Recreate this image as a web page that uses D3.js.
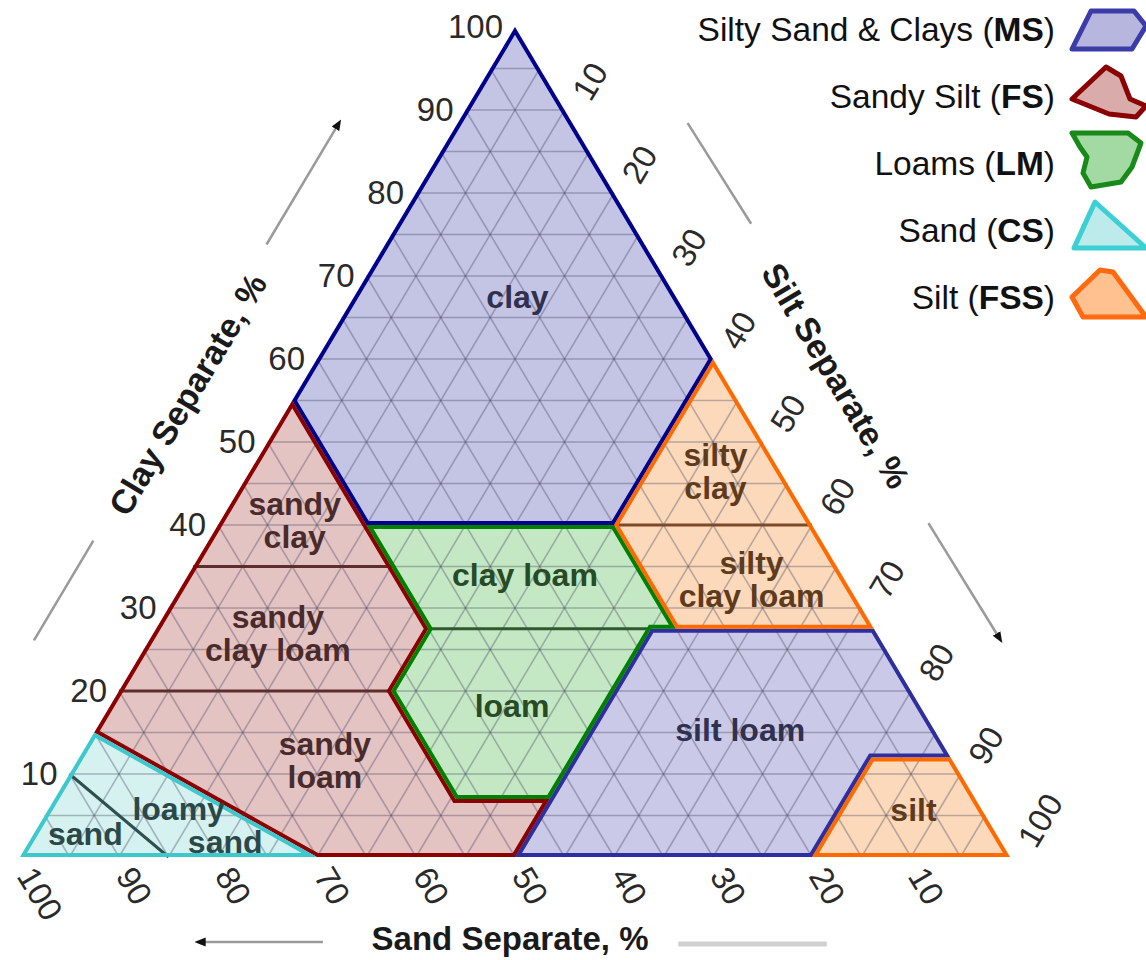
<!DOCTYPE html>
<html lang="en">
<head>
<meta charset="UTF-8">
<title>Soil texture triangle</title>
<script src="https://cdn.jsdelivr.net/npm/d3@7"></script>
<style>
  body { margin: 0; background: #fff; }
  svg { display: block; font-family: "Liberation Sans", Arial, sans-serif; }
</style>
</head>
<body>
<script>
// tick values on all three sides, grid every 5 %
const ticks = [10, 20, 30, 40, 50, 60, 70, 80, 90, 100];
const gridSteps = d3.range(5, 100, 5);

// texture class outlines, points are [sand %, clay %] (silt = the rest)
const clayPoly = [[0, 100], [45, 55], [45, 40], [20, 40], [0, 60]];
const siltLoamPoly = [[22.5, 27.5], [0, 27.5], [0, 12], [8, 12], [20, 0], [50, 0], [43, 7]];
const sandySiltPoly = [[45, 55], [85, 15], [70, 0], [50, 0], [43, 7], [52.5, 7], [52.5, 20], [45, 27.5], [45, 40]];
const loamsPoly = [[45, 40], [20, 40], [20, 27.5], [22.5, 27.5], [43, 7], [52.5, 7], [52.5, 20], [45, 27.5]];
const sandPoly = [[85, 15], [100, 0], [70, 0]];
const siltyClayPoly = [[0, 60], [20, 40], [20, 27.5], [0, 27.5]];
const siltPoly = [[8, 12], [0, 12], [0, 0], [20, 0]];

// class borders inside a group
const dividers = [
  { group: "FS", from: [65, 35], to: [45, 35] },
  { group: "FS", from: [80, 20], to: [52.5, 20] },
  { group: "LM", from: [45, 27.5], to: [22.5, 27.5] },
  { group: "FSS", from: [20, 40], to: [0, 40] },
  { group: "CS", from: [90, 10], to: [85, 0] }
];

// class names and where they sit, [sand %, clay %]
const labelText = [["clay"], ["silty", "clay"], ["sandy", "clay"], ["clay loam"], ["silty", "clay loam"],
  ["sandy", "clay loam"], ["loam"], ["silt loam"], ["sandy", "loam"], ["silt"], ["loamy"], ["sand"], ["sand"]];
const labelAt = [[16, 67.5], [6.5, 46.5], [52, 40.5], [32, 34], [9.4, 33.4], [60.5, 26.9], [41.2, 18.2],
  [19.6, 15.3], [63.4, 11.6], [6.9, 5.7], [81.1, 5.75], [78.4, 1.75], [92, 2.8]];
const labelGroup = ["MS", "FSS", "FS", "LM", "FSS", "FS", "LM", "MS", "FS", "FSS", "CS", "CS", "CS"];

const legendNames = ["Silty Sand & Clays", "Sandy Silt", "Loams", "Sand", "Silt"];
const legendCodes = ["MS", "FS", "LM", "CS", "FSS"];

const groupFill = { MS: "#c4c4e5", FS: "#e4c3c3", LM: "#c3e8c3", CS: "#d6f2f0", FSS: "#fcd9bb" };
const groupStroke = { MS: "#00008b", FS: "#8b0000", LM: "#008000", CS: "#3cc8cc", FSS: "#ff6a00" };
const groupInk = { MS: "#30304f", FS: "#4a2b2b", LM: "#274a27", CS: "#2a4848", FSS: "#5e3b1c" };
const dividerInk = { FS: "#5e2e2e", LM: "#2e5a2e", CS: "#2e5050", FSS: "#7a4a2a" };

const width = 1146, height = 960;
const svg = d3.select("body").append("svg")
  .attr("width", width)
  .attr("height", height);

const xScale = d3.scaleLinear().domain([0, 100]).range([20, 1010]);
const yScale = d3.scaleLinear().domain([0, 100]).range([857, 27]);

// screen position of a sand/clay pair
function pos(sand, clay) {
  const silt = 100 - sand - clay;
  return [xScale(silt + clay / 2), yScale(clay)];
}

const pSand = pos(100, 0), pClay = pos(0, 100);
const ang = Math.atan2(pSand[1] - pClay[1], pClay[0] - pSand[0]) * 180 / Math.PI;
const rad = ang * Math.PI / 180;
const nLeft = [-Math.sin(rad), -Math.cos(rad)];   // outward from the clay side
const nRight = [Math.sin(rad), -Math.cos(rad)];   // outward from the silt side
function shift(p, n, d) { return [p[0] + n[0] * d, p[1] + n[1] * d]; }

const polys = [
  { pts: clayPoly, group: "MS" },
  { pts: siltLoamPoly, group: "MS", stroke: "#2e2e9e", fill: "#cacae8" },
  { pts: sandySiltPoly, group: "FS" },
  { pts: loamsPoly, group: "LM" },
  { pts: sandPoly, group: "CS" },
  { pts: siltyClayPoly, group: "FSS" },
  { pts: siltPoly, group: "FSS" }
];
const ptsStr = d => d.pts.map(p => pos(p[0], p[1])).join(" ");

const defs = svg.append("defs");
polys.forEach((d, i) => {
  defs.append("clipPath").attr("id", "clip" + i)
    .append("polygon").attr("points", ptsStr(d));
});
defs.append("marker")
  .attr("id", "head")
  .attr("viewBox", "0 0 10 10")
  .attr("refX", 5).attr("refY", 5)
  .attr("markerWidth", 11).attr("markerHeight", 11)
  .attr("markerUnits", "userSpaceOnUse")
  .attr("orient", "auto")
  .append("path").attr("d", "M0,1 L10,5 L0,9 z").attr("fill", "#111");

// fills
svg.append("g").selectAll("polygon")
  .data(polys)
  .enter().append("polygon")
  .attr("points", ptsStr)
  .attr("fill", d => d.fill || groupFill[d.group]);

// triangular grid
const gridLines = [];
gridSteps.forEach(v => {
  gridLines.push([pos(100 - v, v), pos(0, v)]);
  gridLines.push([pos(v, 0), pos(v, 100 - v)]);
  gridLines.push([pos(100 - v, 0), pos(0, 100 - v)]);
});
svg.append("g").selectAll("line")
  .data(gridLines)
  .enter().append("line")
  .attr("x1", d => d[0][0]).attr("y1", d => d[0][1])
  .attr("x2", d => d[1][0]).attr("y2", d => d[1][1])
  .attr("stroke", "rgba(70,70,95,0.36)")
  .attr("stroke-width", 1.6);

// dark lines between classes of one group
svg.append("g").selectAll("line")
  .data(dividers)
  .enter().append("line")
  .attr("x1", d => pos(...d.from)[0]).attr("y1", d => pos(...d.from)[1])
  .attr("x2", d => pos(...d.to)[0]).attr("y2", d => pos(...d.to)[1])
  .attr("stroke", d => dividerInk[d.group])
  .attr("stroke-width", 3);

// group outlines, stroke kept inside each shape
svg.append("g").selectAll("polygon")
  .data(polys)
  .enter().append("polygon")
  .attr("points", ptsStr)
  .attr("fill", "none")
  .attr("clip-path", (d, i) => "url(#clip" + i + ")")
  .attr("stroke", d => d.stroke || groupStroke[d.group])
  .attr("stroke-width", 8)
  .attr("stroke-linejoin", "miter");

// class names
const labels = svg.append("g")
  .attr("font-size", 32)
  .attr("font-weight", "bold")
  .attr("text-anchor", "middle");
labelText.forEach((lines, i) => {
  const p = pos(...labelAt[i]);
  const t = labels.append("text").attr("fill", groupInk[labelGroup[i]]);
  lines.forEach((s, j) => {
    t.append("tspan")
      .attr("x", p[0])
      .attr("y", p[1] + (j - (lines.length - 1) / 2) * 33)
      .attr("dominant-baseline", "central")
      .text(s);
  });
});

// tick labels
const tickG = svg.append("g").attr("font-size", 33).attr("fill", "#2a2a2a");
tickG.selectAll(".clay")
  .data(ticks)
  .enter().append("text")
  .attr("x", d => pos(100 - d, d)[0] - 12)
  .attr("y", d => pos(100 - d, d)[1] - 1)
  .attr("text-anchor", "end")
  .attr("dominant-baseline", "central")
  .text(d => d);
tickG.selectAll(".silt")
  .data(ticks)
  .enter().append("text")
  .attr("transform", d => {
    const p = pos(0, 100 - d);
    return "translate(" + (p[0] + 16) + "," + (p[1] - 13) + ") rotate(" + (-ang) + ")";
  })
  .attr("dominant-baseline", "central")
  .text(d => d);
tickG.selectAll(".sand")
  .data(ticks)
  .enter().append("text")
  .attr("transform", d => {
    const p = pos(d, 0);
    return "translate(" + (p[0] + 6) + "," + (p[1] + 13) + ") rotate(" + ang + ")";
  })
  .attr("dominant-baseline", "central")
  .text(d => d);

// axis titles
const titleG = svg.append("g")
  .attr("font-size", 34)
  .attr("font-weight", "bold")
  .attr("fill", "#1a1a1a")
  .attr("text-anchor", "middle")
  .attr("dominant-baseline", "central");
const clayT = shift(pos(50, 50), nLeft, 93);
titleG.append("text")
  .attr("transform", "translate(" + clayT + ") rotate(" + (-ang) + ")")
  .text("Clay Separate, %");
const siltT = shift(pos(0, 52), nRight, 97);
titleG.append("text")
  .attr("transform", "translate(" + siltT + ") rotate(" + ang + ")")
  .text("Silt Separate, %");
const sandT = pos(50.5, 0);
titleG.append("text")
  .attr("x", sandT[0]).attr("y", sandT[1] + 81)
  .attr("font-size", 33)
  .text("Sand Separate, %");

// little direction lines next to the titles
const arrows = [
  { a: shift(pos(80, 20), nLeft, 99), b: shift(pos(68, 32), nLeft, 99), head: false },
  { a: shift(pos(32.5, 67.5), nLeft, 102), b: shift(pos(18, 82), nLeft, 102), head: true },
  { a: shift(pos(0, 82.3), nRight, 99), b: shift(pos(0, 70), nRight, 102), head: false },
  { a: shift(pos(0, 34), nRight, 101), b: shift(pos(0, 20), nRight, 103), head: true },
  { a: [pos(69.4, 0)[0], 942], b: [pos(81.8, 0)[0], 942], head: true },
  { a: [pos(33.5, 0)[0], 944], b: [pos(18.5, 0)[0], 944], head: false, light: true }
];
svg.append("g").selectAll("line")
  .data(arrows)
  .enter().append("line")
  .attr("x1", d => d.a[0]).attr("y1", d => d.a[1])
  .attr("x2", d => d.b[0]).attr("y2", d => d.b[1])
  .attr("stroke", d => d.light ? "#d0d0d0" : "#9a9a9a")
  .attr("stroke-width", d => d.light ? 5 : 2.5)
  .attr("marker-end", d => d.head ? "url(#head)" : null);

// legend
const legendShapes = [
  [[4, 20], [23, -18], [66, -18], [78, -3], [64, 20]],
  [[4, 3], [38, -29], [53, -20], [62, 3], [78, 10], [68, 21], [41, 18]],
  [[4, -30], [60, -30], [73, -20], [64, 4], [53, 19], [23, 24], [15, 10], [19, -6], [12, -16]],
  [[6, 18], [27, -28], [78, 18]],
  [[4, 0], [32, -27], [45, -25], [78, 20], [15, 20]]
];
const legendFill = { MS: "#b6b6de", FS: "#d9abab", LM: "#a3d9a3", CS: "#bdeaea", FSS: "#ffc190" };
const legendStroke = { MS: "#3c3ca8", FS: "#8b0000", LM: "#198a19", CS: "#3cd0d4", FSS: "#ff6a10" };
const legendY = d3.scaleLinear().domain([0, 4]).range([29, 297]);

const legend = svg.append("g").selectAll("g")
  .data(legendCodes)
  .enter().append("g")
  .attr("transform", (d, i) => "translate(0," + legendY(i) + ")");
legend.append("text")
  .attr("x", 1055)
  .attr("text-anchor", "end")
  .attr("dominant-baseline", "central")
  .attr("font-size", 33.5)
  .attr("fill", "#111")
  .each(function (d, i) {
    const t = d3.select(this);
    t.append("tspan").text(legendNames[i] + " (");
    t.append("tspan").attr("font-weight", "bold").text(d);
    t.append("tspan").text(")");
  });
legend.append("polygon")
  .attr("points", (d, i) => legendShapes[i].map(p => [1068 + p[0], p[1]]).join(" "))
  .attr("fill", d => legendFill[d])
  .attr("stroke", d => legendStroke[d])
  .attr("stroke-width", 5)
  .attr("stroke-linejoin", "round");
</script>
</body>
</html>
